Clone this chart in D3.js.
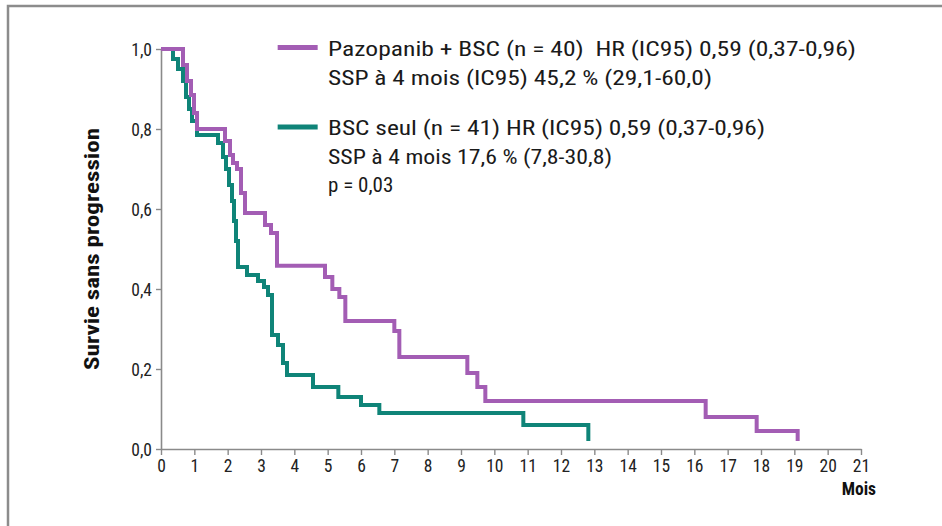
<!DOCTYPE html>
<html><head><meta charset="utf-8">
<script src="https://cdn.jsdelivr.net/npm/d3@7"></script>
<style>
html,body{margin:0;padding:0;background:#fff;}
svg{display:block;}
text{font-family:'Liberation Sans Narrow','Roboto Condensed','Liberation Sans',sans-serif;}
</style></head>
<body>
<svg id="chart" width="942" height="526"></svg>
<script>
// ---- data ----
const xTicks = d3.range(0, 22);
const yTicks = [0, 0.2, 0.4, 0.6, 0.8, 1.0];
const yTickLabels = ["0,0", "0,2", "0,4", "0,6", "0,8", "1,0"];

const pazoTimes = [0, 0.66, 0.78, 0.9, 0.99, 1.08, 1.92, 2.07, 2.16, 2.28, 2.4, 2.52, 3.12, 3.3, 3.48, 4.92, 5.14, 5.35, 5.53, 7.0, 7.15, 9.19, 9.49, 9.73, 16.34, 17.87, 19.1];
const pazoSurv  = [1.0, 0.96, 0.92, 0.885, 0.84, 0.80, 0.77, 0.735, 0.715, 0.70, 0.64, 0.59, 0.56, 0.54, 0.458, 0.43, 0.40, 0.38, 0.32, 0.295, 0.23, 0.19, 0.155, 0.12, 0.08, 0.045, 0.02];

const bscTimes = [0, 0.36, 0.51, 0.66, 0.75, 0.84, 0.93, 1.08, 1.71, 1.86, 1.95, 2.04, 2.13, 2.19, 2.25, 2.31, 2.58, 2.91, 3.09, 3.21, 3.33, 3.51, 3.66, 3.78, 4.56, 5.32, 6.0, 6.55, 10.87, 12.82];
const bscSurv  = [1.0, 0.975, 0.95, 0.92, 0.88, 0.85, 0.82, 0.785, 0.765, 0.73, 0.70, 0.66, 0.62, 0.57, 0.52, 0.455, 0.435, 0.42, 0.405, 0.385, 0.285, 0.26, 0.215, 0.185, 0.155, 0.13, 0.11, 0.09, 0.06, 0.02];

const legendPazo = ["Pazopanib + BSC (n = 40)  HR (IC95) 0,59 (0,37-0,96)", "SSP à 4 mois (IC95) 45,2 % (29,1-60,0)"];
const legendBsc = ["BSC seul (n = 41) HR (IC95) 0,59 (0,37-0,96)", "SSP à 4 mois 17,6 % (7,8-30,8)", "p = 0,03"];
const yTitle = "Survie sans progression";
const xTitle = "Mois";

// ---- drawing ----
const purple = "#a35db4", teal = "#0f8478", axisCol = "#8a8a8a";
const svg = d3.select("#chart");

// frame
svg.append("path").attr("d", "M8,526V6H942").attr("fill", "none")
  .attr("stroke", "#8c8c8c").attr("stroke-width", 2.5);

const x = d3.scaleLinear().domain([0, 21]).range([161, 861]);
const y = d3.scaleLinear().domain([0, 1]).range([449, 49]);

// axes
const xAxis = svg.append("g").attr("transform", "translate(0,449)")
  .call(d3.axisBottom(x).tickValues(xTicks).tickSize(6).tickSizeOuter(0).tickPadding(5).tickFormat(d3.format("d")));
const yAxis = svg.append("g").attr("transform", "translate(161,0)")
  .call(d3.axisLeft(y).tickValues(yTicks).tickSize(5).tickSizeOuter(0).tickPadding(4).tickFormat((d, i) => yTickLabels[i]));
[xAxis, yAxis].forEach(g => {
  g.select(".domain").attr("stroke", axisCol).attr("stroke-width", 1.6);
  g.selectAll(".tick line").attr("stroke", axisCol).attr("stroke-width", 1.4);
  g.selectAll(".tick text").attr("fill", "#222").attr("font-size", 17.5)
    .style("font-family", "'Liberation Sans Narrow','Roboto Condensed','Liberation Sans',sans-serif");
});
yAxis.selectAll(".tick text").attr("dy", "0.35em");

// curves
const line = d3.line().x(d => x(d[0])).y(d => y(d[1])).curve(d3.curveStepAfter);
const bscData = bscTimes.map((t, i) => [t, bscSurv[i]]);
const pazoData = pazoTimes.map((t, i) => [t, pazoSurv[i]]);
svg.append("path").datum(bscData).attr("d", line).attr("fill", "none")
  .attr("stroke", teal).attr("stroke-width", 4).attr("stroke-linejoin", "miter");
svg.append("path").datum(pazoData).attr("d", line).attr("fill", "none")
  .attr("stroke", purple).attr("stroke-width", 4).attr("stroke-linejoin", "miter");

// y title
svg.append("text").attr("transform", "translate(99,249) rotate(-90)")
  .attr("text-anchor", "middle").attr("font-weight", "bold").attr("font-size", 20)
  .attr("fill", "#111").attr("textLength", 242).attr("lengthAdjust", "spacingAndGlyphs")
  .text(yTitle);
// x title
svg.append("text").attr("x", 876).attr("y", 495).attr("text-anchor", "end")
  .attr("font-weight", "bold").attr("font-size", 17.5).attr("fill", "#111").text(xTitle);

// legend
svg.append("line").attr("x1", x(3.5)).attr("x2", x(4.7)).attr("y1", y(1.0035)).attr("y2", y(1.0035))
  .attr("stroke", purple).attr("stroke-width", 5);
svg.append("line").attr("x1", x(3.5)).attr("x2", x(4.7)).attr("y1", y(0.805)).attr("y2", y(0.805))
  .attr("stroke", teal).attr("stroke-width", 5);
const lw1 = [528, 384], lw2 = [437, 284, null];
const lb1 = [56, 85], lb2 = [135, 164, 192];
legendPazo.forEach((s, i) => {
  svg.append("text").attr("x", 328).attr("y", lb1[i]).attr("font-size", 21).attr("fill", "#1a1a1a")
    .attr("textLength", lw1[i]).attr("lengthAdjust", "spacingAndGlyphs").attr("xml:space", "preserve").text(s);
});
legendBsc.forEach((s, i) => {
  const t = svg.append("text").attr("x", 328).attr("y", lb2[i]).attr("font-size", 21).attr("fill", "#1a1a1a").text(s);
  if (lw2[i]) t.attr("textLength", lw2[i]).attr("lengthAdjust", "spacingAndGlyphs");
});
</script>
</body></html>
